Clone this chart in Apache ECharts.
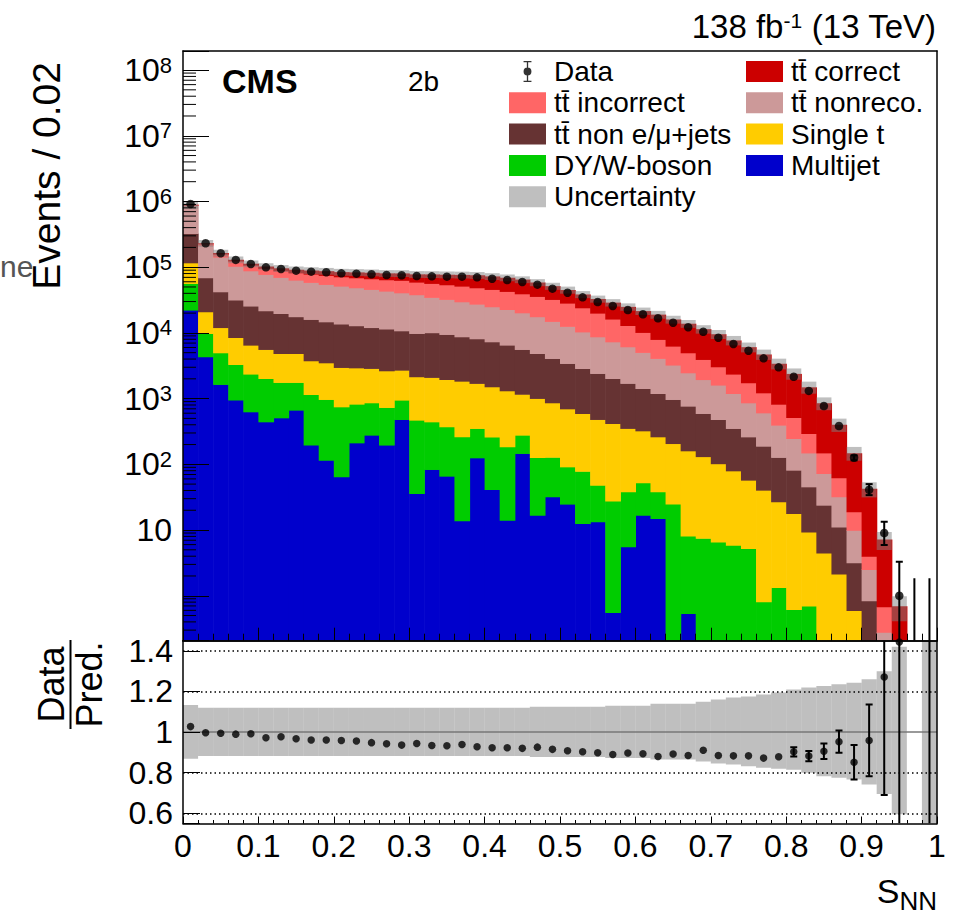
<!DOCTYPE html>
<html>
<head>
<meta charset="utf-8">
<script src="https://cdn.jsdelivr.net/npm/echarts@6/dist/echarts.min.js"></script>
<style>html,body{margin:0;padding:0;background:#fff}#c{width:963px;height:917px}</style>
</head>
<body>
<div id="c"></div>
<script>
// ---------------- data ----------------
const binLowEdges = [0,0.02,0.04,0.06,0.08,0.1,0.12,0.14,0.16,0.18,0.2,0.22,0.24,0.26,0.28,0.3,0.32,0.34,0.36,0.38,0.4,0.42,0.44,0.46,0.48,0.5,0.52,0.54,0.56,0.58,0.6,0.62,0.64,0.66,0.68,0.7,0.72,0.74,0.76,0.78,0.8,0.82,0.84,0.86,0.88,0.9,0.92,0.94,0.96,0.98];
const binWidth = 0.02;

const dataCounts = [916000,231000,163000,129000,112000,99600,94000,88500,85500,83600,80700,79700,78000,76000,75300,73400,72500,71700,71700,70000,66800,63800,59600,54200,47100,40900,34800,29500,25700,22300,19200,16700,14300,12200,10400,8450,6780,5360,4100,2990,2150,1310,771,383,126,41,9,1,0,0];

const ttCorrect = [2000,4000,5000,5800,5100,6400,7700,9000,10200,11800,12500,14200,15400,16000,17200,18400,20800,22600,24700,26600,26400,26200,25300,22500,19100,16500,14300,12800,12600,11900,11300,11000,9690,8800,7440,6490,5310,4320,3470,2570,1860,1190,701,339,129,38.3,6.5,0.56,0,0.05];
const ttIncorrect = [6000,12000,16000,20000,19400,18300,18400,18700,20000,20400,20000,20400,20900,21200,22300,21200,22000,21800,21800,21300,20900,20100,19200,18300,17400,15900,13800,11300,8950,6830,5140,3880,3060,2520,2000,1450,1170,883,620,428,270,146,77,30.4,9.0,1.5,0.40,0.10,0,0];
const ttNonreco = [557000,146800,100600,72500,62800,56000,50300,46100,42700,40000,38000,35900,33900,31900,30100,28400,24700,22900,21100,19300,17750,16260,14680,12820,10900,9160,7510,6340,5320,4460,3630,2900,2280,1710,1360,1130,847,604,420,268,166,104,48.8,21.0,6.8,1.68,0.17,0.03,0,0];
const ttNonLepJets = [210000,48200,30300,23100,19160,16180,14920,12820,12320,11280,10710,9950,9210,8840,8080,7680,7990,7550,6910,6460,5830,5220,4450,3870,3230,2740,2290,1940,1610,1360,1105,937,766,610,465,380,273,205,149,101,63.9,36.2,19.5,9.06,2.58,0.74,0.09,0,0,0];
const singleTop = [60200,11160,7100,5240,4170,3590,3110,3110,2620,2546,2237,2123,2023,1924,1768,1688,1665,1586,1587,1357,1257,1135,891,882,739,610,517,435,392,315,272,225,183,153,124,96,74,52.4,39.8,25.7,17.3,8.7,4.4,2.1,0.6,0.1,0.02,0,0,0];
const dyWBoson = [34500,5490,3350,2368,1738,1585,1258,1100,963,858,688,614,588,539,469,436,361,308,249,227,221,171,132,111,96,67,66,35,27.3,32.7,35.6,23.3,24.9,7.6,7.5,6.6,5.9,5.26,0.81,1.34,0.62,0.7,0.1,0.05,0,0,0,0,0,0];
const multijet = [22300,4350,1650,952,632,445,512,670,197,116,64.8,213,279,197,483,36.1,83.8,66.3,13.9,126,41.6,14.2,147,16.9,32.2,24.9,12.6,13.4,0.56,5.57,16.9,15.0,0,0.54,0,0,0,0,0,0,0,0,0,0,0,0,0,0,0,0];

// relative total-prediction uncertainty (up / down)
const uncUp = [0.133,0.12,0.12,0.12,0.12,0.12,0.12,0.12,0.12,0.12,0.12,0.12,0.12,0.12,0.12,0.12,0.12,0.12,0.12,0.12,0.12,0.12,0.12,0.125,0.125,0.125,0.125,0.125,0.13,0.13,0.13,0.14,0.14,0.14,0.15,0.16,0.17,0.175,0.185,0.195,0.21,0.22,0.227,0.235,0.243,0.26,0.30,0.42,0,1.2];
const uncDown = [0.131,0.118,0.118,0.118,0.118,0.118,0.118,0.118,0.118,0.118,0.118,0.118,0.118,0.118,0.118,0.118,0.118,0.118,0.118,0.118,0.118,0.118,0.118,0.122,0.122,0.122,0.122,0.122,0.128,0.128,0.128,0.135,0.135,0.135,0.145,0.155,0.16,0.168,0.175,0.18,0.185,0.2,0.217,0.225,0.233,0.258,0.305,0.405,0,1];

// data error bars (upper panel), only where visible
const dataErrLow  = [null,null,null,null,null,null,null,null,null,null,null,null,null,null,null,null,null,null,null,null,null,null,null,null,null,null,null,null,null,null,null,null,null,null,null,null,null,null,null,null,null,null,null,null,115,34,5.9,0.17,0,0];
const dataErrHigh = [null,null,null,null,null,null,null,null,null,null,null,null,null,null,null,null,null,null,null,null,null,null,null,null,null,null,null,null,null,null,null,null,null,null,null,null,null,null,null,null,null,null,null,null,137,50,13.4,3.3,1.84,1.84];

// Data / Pred.
const ratioValues = [1.027,0.997,0.994,0.990,0.992,0.972,0.977,0.967,0.961,0.961,0.959,0.956,0.948,0.943,0.936,0.944,0.934,0.933,0.939,0.928,0.923,0.923,0.920,0.926,0.915,0.908,0.903,0.898,0.890,0.897,0.893,0.880,0.892,0.885,0.911,0.885,0.883,0.883,0.872,0.879,0.903,0.882,0.906,0.953,0.851,0.959,1.271,1.443,null,0];
const ratioErrLow  = [null,null,null,null,null,null,null,null,null,null,null,null,null,null,null,null,null,null,null,null,null,null,null,null,null,null,null,null,null,null,null,null,null,null,null,null,null,null,null,null,0.880,0.857,0.868,0.898,0.767,0.783,0.690,0.24,null,0];
const ratioErrHigh = [null,null,null,null,null,null,null,null,null,null,null,null,null,null,null,null,null,null,null,null,null,null,null,null,null,null,null,null,null,null,null,null,null,null,null,null,null,null,null,null,0.925,0.907,0.944,1.008,0.936,1.136,1.87,4.8,null,37];

const ratioGridLines = [0.6, 0.8, 1.2, 1.4];

// ---------------- layout / style ----------------
const FONT = 'Liberation Sans, Arial, Helvetica, sans-serif';
const TT = 'tt\u0304';
const Y_MIN = 0.207, Y_MAX = 1.95e8;
const R_MIN = 0.55, R_MAX = 1.45;
const BAND = 'rgba(128,128,128,0.5)';
const G0 = {left: 183, top: 51, width: 754, height: 589.7};
const G1 = {left: 183, top: 640.7, width: 754, height: 182.8};

const components = [
  {name: 'Multijet', values: multijet, color: '#0000cc'},
  {name: 'DY/W-boson', values: dyWBoson, color: '#00cc00'},
  {name: 'Single t', values: singleTop, color: '#ffcc00'},
  {name: TT + ' non e/\u03bc+jets', values: ttNonLepJets, color: '#663333'},
  {name: TT + ' nonreco.', values: ttNonreco, color: '#cc9999'},
  {name: TT + ' incorrect', values: ttIncorrect, color: '#ff6666'},
  {name: TT + ' correct', values: ttCorrect, color: '#cc0000'}
];

function makeRect(color, yMin, yMax, overlap) {
  return function (params, api) {
    const x0 = api.value(0), lo = api.value(1), hi = api.value(2);
    const a = Math.max(lo, yMin), b = Math.min(hi, yMax);
    if (!(b > a)) return null;
    const p0 = api.coord([x0, a]), p1 = api.coord([x0 + binWidth, b]);
    return {type: 'rect', shape: {x: p0[0], y: p1[1], width: p1[0] - p0[0] + overlap, height: p0[1] - p1[1] + overlap}, style: {fill: color}};
  };
}
function makeErr(yMin, yMax) {
  return function (params, api) {
    const xc = api.value(0), lo = api.value(1), hi = api.value(2), cap = api.value(3);
    const a = Math.max(lo, yMin), b = Math.min(hi, yMax);
    if (!(b > a)) return null;
    const pa = api.coord([xc, a]), pb = api.coord([xc, b]);
    const st = {stroke: '#000', lineWidth: 2};
    const ch = [{type: 'line', shape: {x1: pa[0], y1: pa[1], x2: pb[0], y2: pb[1]}, style: st}];
    if (cap) {
      if (lo >= yMin) ch.push({type: 'line', shape: {x1: pa[0] - 3.5, y1: pa[1], x2: pa[0] + 3.5, y2: pa[1]}, style: st});
      if (hi <= yMax) ch.push({type: 'line', shape: {x1: pb[0] - 3.5, y1: pb[1], x2: pb[0] + 3.5, y2: pb[1]}, style: st});
    }
    return {type: 'group', children: ch};
  };
}

const cum = binLowEdges.map(() => 0);
const series = [];
components.forEach(c => {
  const items = binLowEdges.map((x, i) => {
    const lo = cum[i], hi = lo + c.values[i];
    cum[i] = hi;
    return [x, lo, hi];
  });
  series.push({
    type: 'custom', name: c.name, xAxisIndex: 0, yAxisIndex: 0, clip: true, z: 2,
    itemStyle: {color: c.color}, encode: {x: 0, y: [1, 2]},
    renderItem: makeRect(c.color, Y_MIN, Y_MAX, 0.6), data: items, silent: true
  });
});
const total = cum;

series.push({
  type: 'custom', name: 'Uncertainty', xAxisIndex: 0, yAxisIndex: 0, clip: true, z: 3,
  itemStyle: {color: BAND}, encode: {x: 0, y: [1, 2]}, silent: true,
  renderItem: makeRect(BAND, Y_MIN, Y_MAX, 0),
  data: binLowEdges.map((x, i) => [x, total[i] * (1 - uncDown[i]), total[i] * (1 + uncUp[i])]).filter((d, i) => total[i] > 0)
});
series.push({
  type: 'scatter', name: 'Data', xAxisIndex: 0, yAxisIndex: 0, z: 5, symbolSize: 8.5, silent: true,
  itemStyle: {color: '#000'},
  data: binLowEdges.map((x, i) => [x + binWidth / 2, dataCounts[i]]).filter(d => d[1] > 0)
});
series.push({
  type: 'custom', name: 'dataErr', xAxisIndex: 0, yAxisIndex: 0, clip: true, z: 5, silent: true,
  encode: {x: 0, y: [1, 2]}, renderItem: makeErr(Y_MIN, Y_MAX),
  data: binLowEdges.map((x, i) => [x + binWidth / 2, dataErrLow[i], dataErrHigh[i], dataCounts[i] > 0 ? 1 : 0]).filter(d => d[1] != null)
});
// log minor ticks (2..9 x 10^n)
const minorVals = [];
for (let n = -1; n <= 8; n++) for (let k = 2; k <= 9; k++) { const v = k * Math.pow(10, n); if (v > Y_MIN && v < Y_MAX) minorVals.push(v); }
series.push({
  type: 'custom', name: 'minorTicks', xAxisIndex: 0, yAxisIndex: 0, clip: true, z: 7, silent: true,
  encode: {x: 0, y: 1},
  renderItem: function (params, api) {
    const p = api.coord([0, api.value(1)]);
    return {type: 'line', shape: {x1: p[0], y1: p[1], x2: p[0] + 13, y2: p[1]}, style: {stroke: '#000', lineWidth: 1}};
  },
  data: minorVals.map(v => [0, v])
});
// ratio panel
series.push({
  type: 'custom', name: 'ratioBand', xAxisIndex: 2, yAxisIndex: 2, clip: true, z: 3, silent: true,
  encode: {x: 0, y: [1, 2]}, renderItem: makeRect(BAND, R_MIN, R_MAX, 0),
  data: binLowEdges.map((x, i) => [x, 1 - uncDown[i], 1 + uncUp[i]]).filter((d, i) => total[i] > 0)
});
const dotted = {type: [1.5, 3], color: '#000', width: 1.5};
series.push({
  type: 'scatter', name: 'ratio', xAxisIndex: 2, yAxisIndex: 2, z: 5, symbolSize: 7.5, silent: true,
  itemStyle: {color: '#000'},
  data: binLowEdges.map((x, i) => [x + binWidth / 2, ratioValues[i]]).filter(d => d[1] != null && d[1] > 0),
  markLine: {
    silent: true, symbol: 'none', label: {show: false}, animation: false,
    data: ratioGridLines.map(v => ({yAxis: v, lineStyle: dotted})).concat([{yAxis: 1, lineStyle: {type: 'solid', color: '#777', width: 1.5}}])
  }
});
series.push({
  type: 'custom', name: 'ratioErr', xAxisIndex: 2, yAxisIndex: 2, clip: true, z: 5, silent: true,
  encode: {x: 0, y: [1, 2]}, renderItem: makeErr(R_MIN, R_MAX),
  data: binLowEdges.map((x, i) => [x + binWidth / 2, ratioErrLow[i], ratioErrHigh[i], dataCounts[i] > 0 ? 1 : 0]).filter(d => d[1] != null)
});

const axLine = {show: true, onZero: false, lineStyle: {color: '#000', width: 1.5}};
const noLine = {show: false};
function frameX(grid, pos) {
  return {type: 'value', gridIndex: grid, position: pos, min: 0, max: 1, z: 6, axisLine: axLine, axisTick: noLine, axisLabel: noLine, splitLine: noLine};
}

const option = {
  animation: false,
  backgroundColor: '#fff',
  textStyle: {fontFamily: FONT},
  grid: [
    Object.assign({outerBoundsMode: 'none', containLabel: false}, G0),
    Object.assign({outerBoundsMode: 'none', containLabel: false}, G1)
  ],
  xAxis: [
    {type: 'value', gridIndex: 0, position: 'bottom', min: 0, max: 1, interval: 0.1, z: 6,
     axisLine: axLine, axisLabel: {show: false},
     axisTick: {show: true, inside: true, length: 13, lineStyle: {color: '#000', width: 1}},
     minorTick: {show: true, splitNumber: 5, length: 7, lineStyle: {color: '#000', width: 1}},
     splitLine: noLine, minorSplitLine: noLine},
    frameX(0, 'top'),
    {type: 'value', gridIndex: 1, position: 'bottom', min: 0, max: 1, interval: 0.1, z: 6,
     axisLine: axLine,
     axisLabel: {show: true, fontSize: 32, color: '#000', fontFamily: FONT, margin: 6},
     axisTick: {show: true, inside: true, length: 7, lineStyle: {color: '#000', width: 1}},
     minorTick: {show: true, splitNumber: 5, length: 3.5, lineStyle: {color: '#000', width: 1}},
     splitLine: noLine, minorSplitLine: noLine},
    frameX(1, 'top')
  ],
  yAxis: [
    {type: 'log', logBase: 10, gridIndex: 0, position: 'left', min: Y_MIN, max: Y_MAX, z: 6,
     axisLine: axLine,
     axisTick: {show: true, inside: true, length: 26, lineStyle: {color: '#000', width: 1}},
     splitLine: noLine, showMinLabel: false, showMaxLabel: false,
     axisLabel: {
       show: true, margin: 11, color: '#000',
       formatter: function (v) {
         const n = Math.round(Math.log10(v));
         if (n < 1 || Math.abs(v - Math.pow(10, n)) > 1e-6 * v) return '';
         if (n === 1) return '{p|10}';
         return '{b|10}{e|' + n + '}';
       },
       rich: {
         p: {fontSize: 32, lineHeight: 32, fontFamily: FONT, color: '#000'},
         b: {fontSize: 32, lineHeight: 32, fontFamily: FONT, color: '#000', padding: [8, 0, 0, 0], verticalAlign: 'bottom'},
         e: {fontSize: 22, lineHeight: 22, fontFamily: FONT, color: '#000', verticalAlign: 'top'}
       }
     }},
    {type: 'log', logBase: 10, gridIndex: 0, position: 'right', min: Y_MIN, max: Y_MAX, z: 6,
     axisLine: axLine, axisTick: noLine, axisLabel: noLine, splitLine: noLine},
    {type: 'value', gridIndex: 1, position: 'left', min: R_MIN, max: R_MAX, z: 6,
     axisLine: axLine,
     axisTick: {show: true, inside: true, length: 17, lineStyle: {color: '#000', width: 1}},
     splitLine: noLine, showMinLabel: false, showMaxLabel: false,
     axisLabel: {
       show: true, fontSize: 32, color: '#000', fontFamily: FONT, margin: 10,
       formatter: function (v) {
         const k = v / 0.2;
         if (Math.abs(k - Math.round(k)) > 1e-6) return '';
         return String(+v.toFixed(1));
       }
     }},
    {type: 'value', gridIndex: 1, position: 'right', min: R_MIN, max: R_MAX, z: 6,
     axisLine: axLine, axisTick: noLine, axisLabel: noLine, splitLine: noLine}
  ],
  legend: [
    {orient: 'vertical', left: 509, top: 57.5, padding: 0, itemWidth: 37, itemHeight: 21, itemGap: 3.3,
     selectedMode: false, textStyle: {fontSize: 28, lineHeight: 28, color: '#000', fontFamily: FONT, padding: [0, 0, 0, 3]},
     data: [
       {name: 'Data', icon: 'path://M3,0H9V1H6.5V15H9V16H3V15H5.5V1H3Z M9,8A3,3 0 1 1 3,8A3,3 0 1 1 9,8Z'},
       {name: TT + ' incorrect', icon: 'rect'},
       {name: TT + ' non e/\u03bc+jets', icon: 'rect'},
       {name: 'DY/W-boson', icon: 'rect'},
       {name: 'Uncertainty', icon: 'rect'}
     ]},
    {orient: 'vertical', left: 746, top: 57.5, padding: 0, itemWidth: 37, itemHeight: 21, itemGap: 3.3,
     selectedMode: false, textStyle: {fontSize: 28, lineHeight: 28, color: '#000', fontFamily: FONT, padding: [0, 0, 0, 3]},
     data: [
       {name: TT + ' correct', icon: 'rect'},
       {name: TT + ' nonreco.', icon: 'rect'},
       {name: 'Single t', icon: 'rect'},
       {name: 'Multijet', icon: 'rect'}
     ]}
  ],
  graphic: [
    {type: 'text', x: 222, y: 81, z: 10, style: {text: 'CMS', font: 'bold 34px ' + FONT, fill: '#000', verticalAlign: 'middle', textVerticalAlign: 'middle'}},
    {type: 'text', x: 408, y: 81, z: 10, style: {text: '2b', font: '28px ' + FONT, fill: '#000', verticalAlign: 'middle', textVerticalAlign: 'middle'}},
    {type: 'text', x: 936, y: 26, z: 10, style: {
      text: '{a|138 fb}{s|-1}{a| (13 TeV)}', fill: '#000', align: 'right', textAlign: 'right', verticalAlign: 'middle', textVerticalAlign: 'middle',
      rich: {
        a: {fontSize: 33, lineHeight: 33, fontFamily: FONT, fill: '#000', color: '#000', verticalAlign: 'bottom', padding: [6, 0, 0, 0]},
        s: {fontSize: 21, lineHeight: 21, fontFamily: FONT, fill: '#000', color: '#000', verticalAlign: 'top'}
      }}},
    {type: 'text', x: 46, y: 62, rotation: Math.PI / 2, z: 10, style: {text: 'Events / 0.02', font: '39px ' + FONT, fill: '#000', align: 'right', textAlign: 'right', verticalAlign: 'middle', textVerticalAlign: 'middle'}},
    {type: 'text', x: 0, y: 266, z: 10, style: {text: 'ne', font: '30px ' + FONT, fill: '#555', verticalAlign: 'middle', textVerticalAlign: 'middle'}},
    {type: 'group', x: 70.5, y: 684.5, rotation: Math.PI / 2, z: 10, children: [
      {type: 'text', x: 0, y: -1, style: {text: 'Data', font: '36px ' + FONT, fill: '#000', align: 'center', textAlign: 'center', verticalAlign: 'bottom', textVerticalAlign: 'bottom'}},
      {type: 'rect', shape: {x: -44.5, y: -1, width: 89, height: 2}, style: {fill: '#000'}},
      {type: 'text', x: 0, y: 1, style: {text: 'Pred.', font: '36px ' + FONT, fill: '#000', align: 'center', textAlign: 'center', verticalAlign: 'top', textVerticalAlign: 'top'}}
    ]},
    {type: 'text', x: 937, y: 891, z: 10, style: {
      text: '{s|S}{n|NN}', fill: '#000', align: 'right', textAlign: 'right', verticalAlign: 'middle', textVerticalAlign: 'middle',
      rich: {
        s: {fontSize: 34, lineHeight: 34, fontFamily: FONT, fill: '#000', color: '#000', verticalAlign: 'top'},
        n: {fontSize: 26, lineHeight: 26, fontFamily: FONT, fill: '#000', color: '#000', verticalAlign: 'top', padding: [14, 0, 0, 0]}
      }}}
  ],
  series: series
};

const chart = echarts.init(document.getElementById('c'), null, {renderer: 'svg', width: 963, height: 917});
chart.setOption(option);
</script>
</body>
</html>
